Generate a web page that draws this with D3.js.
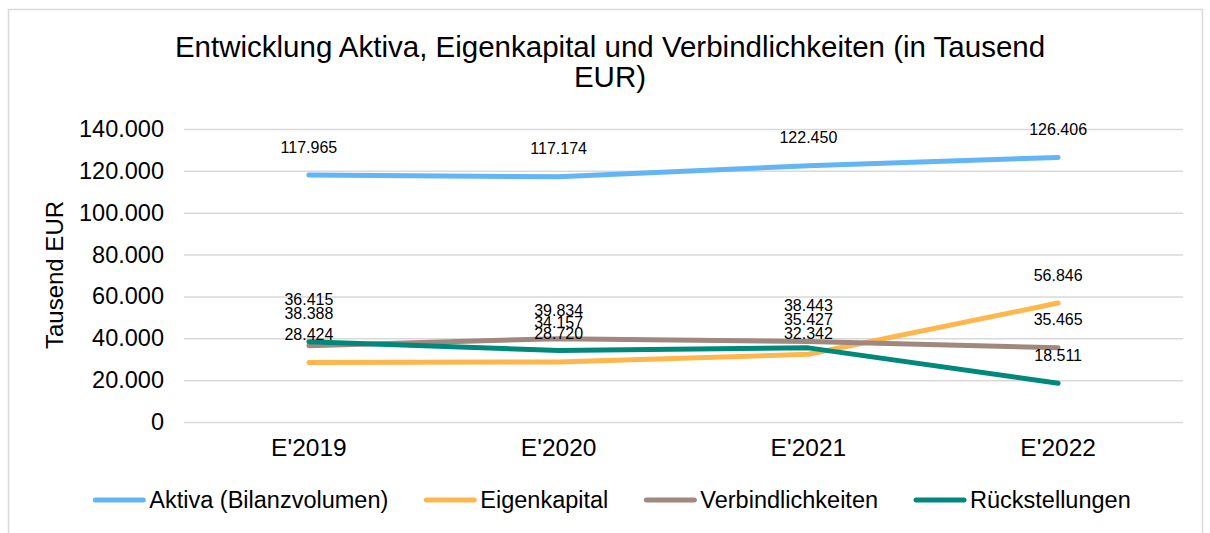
<!DOCTYPE html>
<meta charset="utf-8">
<script src="https://d3js.org/d3.v7.min.js"></script>
<style>
  body { margin: 0; background: #fff; }
  text { font-family: "Liberation Sans", Arial, sans-serif; fill: #000; }
</style>
<div id="chart"></div>
<script>

// categories and series (in Tausend EUR)
var years = ["E'2019", "E'2020", "E'2021", "E'2022"];
var aktiva = [117965, 117174, 122450, 126406];
var eigenkapital = [28424, 28720, 32342, 56846];
var verbindlichkeiten = [36415, 39834, 38443, 35465];
var rueckstellungen = [38388, 34157, 35427, 18511];
var yTicks = [0, 20000, 40000, 60000, 80000, 100000, 120000, 140000];

var seriesNames = ["Aktiva (Bilanzvolumen)", "Eigenkapital", "Verbindlichkeiten", "Rückstellungen"];
var seriesValues = [aktiva, eigenkapital, verbindlichkeiten, rueckstellungen];
var seriesColors = ["#64b5f6", "#ffb74d", "#a1887f", "#00897b"];

var W = 1210, H = 533;
var margin = {top: 129, right: 27, bottom: 111, left: 184};

var svg = d3.select("#chart").append("svg")
    .attr("width", W)
    .attr("height", H);

// chart frame
svg.append("rect")
    .attr("x", 8.5).attr("y", 9.5)
    .attr("width", 1194).attr("height", 560)
    .attr("fill", "none")
    .attr("stroke", "#d9d9d9")
    .attr("stroke-width", 1.5);

var fmt = function(v) { return v === 0 ? "0" : d3.format(",")(v).replace(/,/g, "."); };

var x = d3.scaleBand()
    .domain(years)
    .range([margin.left, W - margin.right]);

var y = d3.scaleLinear()
    .domain([0, 140000])
    .range([H - margin.bottom, margin.top]);

// title
var title = svg.append("text")
    .attr("text-anchor", "middle")
    .style("font-size", "29.5px");
title.append("tspan").attr("x", 610).attr("y", 57)
    .text("Entwicklung Aktiva, Eigenkapital und Verbindlichkeiten (in Tausend");
title.append("tspan").attr("x", 610).attr("y", 87).text("EUR)");

// grid + y labels
var yAxis = svg.append("g")
    .attr("transform", "translate(" + margin.left + ",0)")
    .call(d3.axisLeft(y).tickValues(yTicks).tickFormat(fmt)
      .tickSize(-(W - margin.left - margin.right)).tickPadding(20));
yAxis.select(".domain").remove();
yAxis.selectAll("line").attr("stroke", "#d9d9d9").attr("stroke-width", 1.5);
yAxis.selectAll("text").style("font-size", "23.5px")
    .style("font-family", "Liberation Sans, Arial, sans-serif").attr("fill", "#000");

svg.append("text")
    .attr("transform", "translate(63," + 275 + ") rotate(-90)")
    .attr("text-anchor", "middle")
    .style("font-size", "24px")
    .text("Tausend EUR");

// x labels
var xAxis = svg.append("g")
    .attr("transform", "translate(0," + (H - margin.bottom) + ")")
    .call(d3.axisBottom(x).tickSize(0).tickPadding(17));
xAxis.select(".domain").remove();
xAxis.selectAll("text").style("font-size", "24.5px")
    .style("font-family", "Liberation Sans, Arial, sans-serif").attr("fill", "#000");

// lines
var line = d3.line()
    .x(function(d, i) { return x(years[i]) + x.bandwidth() / 2; })
    .y(function(d) { return y(d); });

seriesValues.forEach(function(vals, s) {
  svg.append("path")
    .datum(vals)
    .attr("d", line)
    .attr("fill", "none")
    .attr("stroke", seriesColors[s])
    .attr("stroke-width", 5)
    .attr("stroke-linecap", "round")
    .attr("stroke-linejoin", "round");
});

// data labels: above the point, pushed up (or down if up is taken) on collision
var labelOffset = 28, overlap = 10, gap = 14;
function hits(list, v) {
  return list.some(function(p) { return Math.abs(p - v) < overlap; });
}
years.forEach(function(yr, i) {
  var placed = [];
  for (var s = seriesValues.length - 1; s >= 0; s--) {
    var v = seriesValues[s][i];
    var ly = y(v) - labelOffset;
    placed.forEach(function(p) {
      if (Math.abs(p - ly) < overlap) {
        ly = hits(placed, p - gap) ? p + gap : p - gap;
      }
    });
    placed.push(ly);
    svg.append("text")
      .attr("x", x(yr) + x.bandwidth() / 2)
      .attr("y", ly)
      .attr("dy", "0.35em")
      .attr("text-anchor", "middle")
      .style("font-size", "16px")
      .text(fmt(v));
  }
});

// legend, centred under the plot
var legend = svg.append("g");
var lx = 0;
seriesNames.forEach(function(name, s) {
  var g = legend.append("g").attr("transform", "translate(" + lx + ",0)");
  g.append("line")
    .attr("x1", 0).attr("x2", 48)
    .attr("stroke", seriesColors[s])
    .attr("stroke-width", 5)
    .attr("stroke-linecap", "round");
  var t = g.append("text")
    .attr("x", 54)
    .attr("dy", "0.35em")
    .style("font-size", "23.5px")
    .text(name);
  lx += 54 + t.node().getComputedTextLength() + 38;
});
var legendW = lx - 38;
legend.attr("transform", "translate(" + (613 - legendW / 2) + ",500)");

</script>
